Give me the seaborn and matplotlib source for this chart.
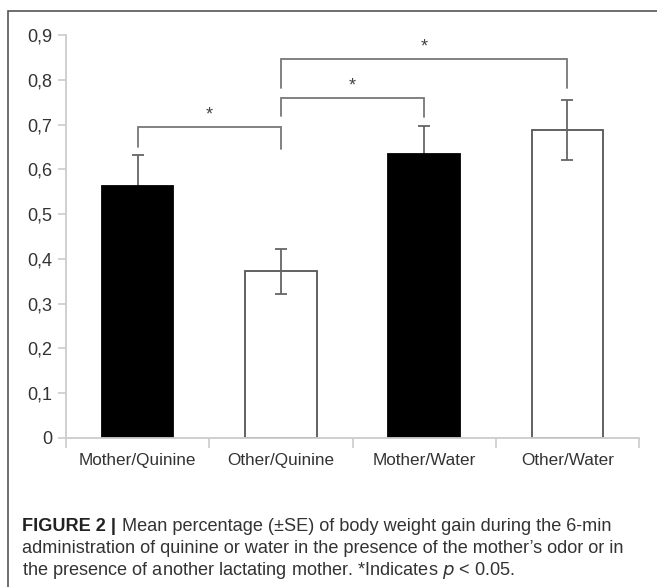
import numpy as np
import pandas as pd
import matplotlib
matplotlib.use("Agg")
import matplotlib.pyplot as plt
import seaborn as sns
from matplotlib.patches import Rectangle

# Data
groups = ["Mother/Quinine", "Other/Quinine", "Mother/Water", "Other/Water"]
means = [0.562, 0.372, 0.634, 0.687]
se = [0.071, 0.051, 0.063, 0.067]
bar_colors = ["black", "white", "black", "white"]

# significance brackets: (left group, right group, bar height, leg bottoms)
brackets = [(0, 1, 0.694, 0.650, 0.645),
            (1, 2, 0.759, 0.719, 0.717),
            (1, 3, 0.846, 0.781, 0.781)]

yticks = [0, 0.1, 0.2, 0.3, 0.4, 0.5, 0.6, 0.7, 0.8, 0.9]
ytick_labels = ["0", "0,1", "0,2", "0,3", "0,4", "0,5", "0,6", "0,7", "0,8", "0,9"]

caption_head = "FIGURE 2 |"
caption_lines = [
    "Mean percentage (\u00b1SE) of body weight gain during the 6-min",
    "administration of quinine or water in the presence of the mother\u2019s odor or in",
    "the presence of another lactating mother. *Indicates $p$ < 0.05.",
]

sns.set_style("white")
plt.rcParams["font.family"] = ["Liberation Sans", "DejaVu Sans"]

df = pd.DataFrame({"group": groups, "mean": means, "se": se})

fig = plt.figure(figsize=(6.57, 5.87), dpi=100)
ax = fig.add_axes([66 / 657, 1 - 438 / 587, (639 - 66) / 657, (438 - 35) / 587])

sns.barplot(data=df, x="group", y="mean", hue="group", palette=bar_colors,
            legend=False, width=0.5, errorbar=None, ax=ax,
            edgecolor="#555555", linewidth=1.3, zorder=2)
for p, c in zip(ax.patches, bar_colors):
    if c == "black":
        p.set_edgecolor("black")

# error bars: behind the black bars (lower half hidden), on top of white ones
x = np.arange(len(groups))
for col, z in [("black", 1), ("white", 3)]:
    idx = [i for i, c in enumerate(bar_colors) if c == col]
    ax.errorbar(x[idx], [means[i] for i in idx], yerr=[se[i] for i in idx],
                fmt="none", ecolor="#666666", elinewidth=1.3, capsize=4,
                capthick=1.3, zorder=z)

for a, b, h, la, lb in brackets:
    ax.plot([a, a, b, b], [la, h, h, lb], color="#777777", lw=1.3,
            solid_joinstyle="miter")
    ax.text((a + b) / 2, h + 0.008, "*", ha="center", va="bottom",
            fontsize=13, color="#444444")

ax.set_xlim(-0.5, 3.5)
ax.set_ylim(0, 0.9)
ax.set_yticks(yticks)
ax.set_yticklabels(ytick_labels, fontsize=13, color="#333333")
ax.set_xticks(x)
ax.set_xticklabels(groups, fontsize=12.3, color="#333333")
ax.set_xticks(np.arange(-0.5, 4, 1), minor=True)
ax.tick_params(axis="x", which="major", length=0, pad=11)
ax.tick_params(axis="x", which="minor", length=7, width=1.2, color="#cccccc",
               direction="out", bottom=True)
ax.tick_params(axis="y", length=6, width=1.2, color="#cccccc",
               direction="out", left=True, pad=4)
ax.set_xlabel("")
ax.set_ylabel("")

sns.despine(ax=ax)
for s in ["left", "bottom"]:
    ax.spines[s].set_color("#cccccc")
    ax.spines[s].set_linewidth(1.3)

# outer frame (runs off the right and bottom edges)
fig.patches.append(Rectangle((8 / 657, -0.05), 1.1, 1 - 11 / 587 + 0.05,
                             transform=fig.transFigure, fill=False,
                             edgecolor="#555555", lw=1.2))

# caption
cap_size = 13.1
baselines = [531, 553, 575]
head = fig.text(22 / 657, 1 - baselines[0] / 587, caption_head, fontsize=cap_size,
                fontweight="bold", color="#222222", va="baseline", ha="left")
fig.canvas.draw()
bb = head.get_window_extent()
x_rest = (bb.x1 + 6) / 657
fig.text(x_rest, 1 - baselines[0] / 587, caption_lines[0], fontsize=cap_size,
         color="#333333", va="baseline", ha="left")
fig.text(22 / 657, 1 - baselines[1] / 587, caption_lines[1], fontsize=cap_size,
         color="#333333", va="baseline", ha="left")
fig.text(22 / 657, 1 - baselines[2] / 587, caption_lines[2], fontsize=cap_size,
         color="#333333", va="baseline", ha="left")

fig.savefig("out.png", dpi=100)
